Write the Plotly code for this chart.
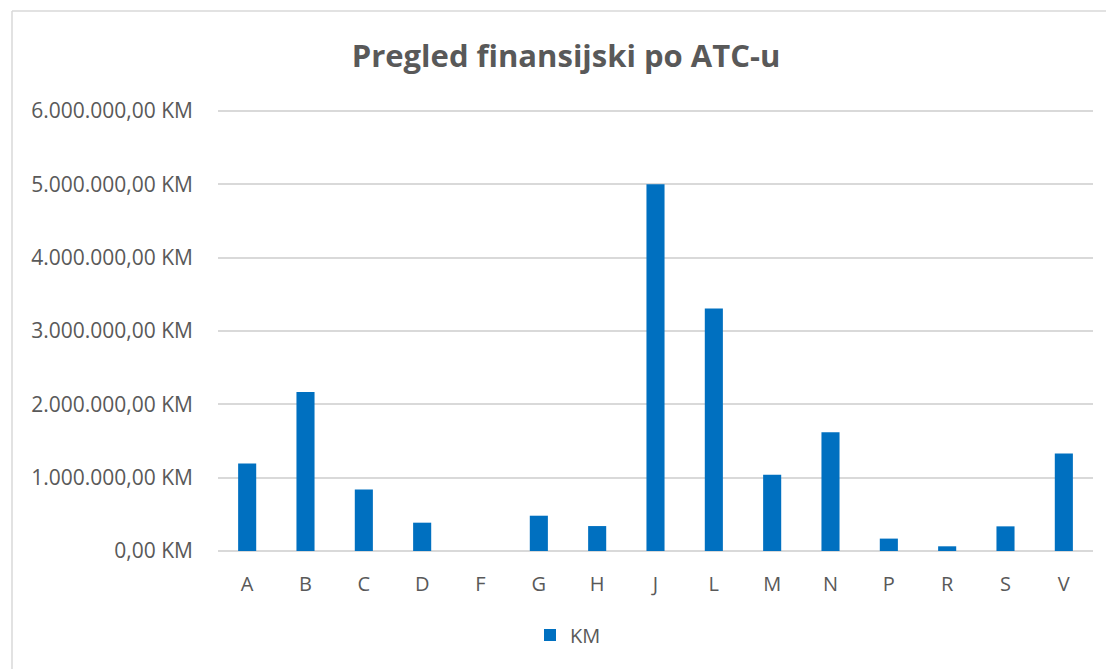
import plotly.graph_objects as go

categories = ["A", "B", "C", "D", "F", "G", "H", "J", "L", "M", "N", "P", "R", "S", "V"]
values_km = [1193000, 2169000, 839000, 386000, 0, 481000, 340000, 5000000,
             3306000, 1040000, 1620000, 169000, 64000, 336000, 1330000]
y_ticks = [0, 1000000, 2000000, 3000000, 4000000, 5000000, 6000000]
series_name = "KM"
title_text = "Pregled finansijski po ATC-u"


def fmt_km(v):
    s = f"{v:,.2f}"  # 6,000,000.00
    s = s.replace(",", "X").replace(".", ",").replace("X", ".")
    return s + " KM"


y_ticktext = [fmt_km(v) for v in y_ticks]

W, H = 1106, 669
L, R, T, B = 218, 13, 109, 118
ph = H - T - B
pw = W - L - R

fig = go.Figure()
fig.add_trace(go.Bar(
    x=categories, y=values_km, name=series_name,
    marker=dict(color="#0070C0", line=dict(width=0)),
))

font_family = "Open Sans"
grey = "#595959"


def px_x(px):
    return (px - L) / pw


def px_y(py):
    return (H - B - py) / ph


fig.update_layout(
    width=W, height=H,
    margin=dict(l=L, r=R, t=T, b=B),
    paper_bgcolor="white", plot_bgcolor="white",
    bargap=0.69,
    font=dict(family=font_family, color=grey, size=21),
    title=dict(text="<b>" + title_text + "</b>", x=566 / W, xanchor="center",
               y=1 - 56 / H, yanchor="middle", yref="container",
               font=dict(family=font_family, size=31, color=grey)),
    showlegend=True,
    legend=dict(orientation="h", x=px_x(568), xanchor="center",
                y=px_y(635), yanchor="middle",
                font=dict(size=20, color=grey), itemwidth=30),
    xaxis=dict(showgrid=False, showline=False, ticks="",
               tickfont=dict(size=20, color=grey), ticklabelstandoff=19,
               zeroline=False),
    yaxis=dict(range=[0, 6025000], tickmode="array", tickvals=y_ticks,
               ticktext=y_ticktext,
               showgrid=True, gridcolor="#d9d9d9", gridwidth=1.5,
               zeroline=True, zerolinecolor="#d9d9d9", zerolinewidth=1.5,
               tickfont=dict(size=21, color=grey), ticklabelstandoff=24,
               showline=False, ticks=""),
    shapes=[
        dict(type="line", xref="paper", yref="paper",
             x0=px_x(12), x1=px_x(1200), y0=px_y(11), y1=px_y(11),
             line=dict(color="#d9d9d9", width=1.5)),
        dict(type="line", xref="paper", yref="paper",
             x0=px_x(12), x1=px_x(12), y0=px_y(11), y1=px_y(700),
             line=dict(color="#d9d9d9", width=1.5)),
    ],
)

fig.write_html("out.html",
               config={"displayModeBar": False},
               post_script="document.body.style.margin='0';"
                           "document.body.style.overflow='hidden';")
